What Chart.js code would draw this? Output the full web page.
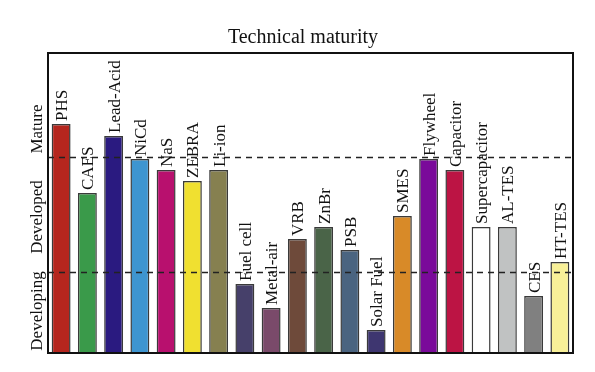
<!DOCTYPE html>
<html>
<head>
<meta charset="utf-8">
<script src="https://cdn.jsdelivr.net/npm/chart.js@4"></script>
<style>
html,body{margin:0;padding:0;background:#fff;}
#wrap{width:595px;height:372px;position:relative;}
</style>
</head>
<body>
<div id="wrap"><canvas id="c" width="595" height="372"></canvas></div>
<script>
const categories = ['PHS','CAES','Lead-Acid','NiCd','NaS','ZEBRA','Li-ion','Fuel cell','Metal-air','VRB','ZnBr','PSB','Solar Fuel','SMES','Flywheel','Capacitor','Supercapacitor','AL-TES','CES','HT-TES'];
const maturity = [229,160,217,194,183,172,183,69,45,114,126,103,23,137,194,183,126,126,57,91];
const barColors = ['#b5261e','#3a9a4a','#2a1a80','#3e95d0','#b8106e','#f0e030','#868050','#46406a','#7a4a6a','#6e4a3a','#4a6448','#4a6480','#3e3670','#d88a28','#7a0a9a','#bc1444','#ffffff','#c0c2c2','#808080','#f8f098'];
const levelLabels = ['Developing','Developed','Mature'];
const levelTicks = [42,136,224];
const levelBoundaries = [81,196];
const yMax = 300;
const chartTitle = 'Technical maturity';

const serif = '"Liberation Serif", "Times New Roman", serif';

const decor = {
  id:'decor',
  afterDatasetsDraw(chart){
    const ctx = chart.ctx, a = chart.chartArea, y = chart.scales.y;
    ctx.save();
    // title
    ctx.fillStyle = '#111';
    ctx.font = '20px ' + serif;
    ctx.textAlign = 'center'; ctx.textBaseline = 'middle';
    ctx.fillText(chartTitle, 303, 38);
    // dashed boundaries
    ctx.strokeStyle = '#222'; ctx.lineWidth = 1.5; ctx.setLineDash([6,5]);
    levelBoundaries.forEach(v=>{
      const py = Math.round(y.getPixelForValue(v))+0.5;
      ctx.beginPath(); ctx.moveTo(a.left, py); ctx.lineTo(a.right, py); ctx.stroke();
    });
    ctx.setLineDash([]);
    // frame
    ctx.strokeStyle = '#111'; ctx.lineWidth = 2;
    ctx.strokeRect(a.left, a.top, a.right-a.left, a.bottom-a.top);
    // bar labels
    ctx.fillStyle = '#111';
    ctx.font = '17px ' + serif;
    ctx.textAlign = 'left'; ctx.textBaseline = 'alphabetic';
    const meta = chart.getDatasetMeta(0);
    meta.data.forEach((bar,i)=>{
      ctx.save();
      ctx.translate(bar.x + 6, bar.y - 3);
      ctx.rotate(-Math.PI/2);
      ctx.fillText(categories[i], 0, 0);
      ctx.restore();
    });
    // level labels
    ctx.textAlign = 'center';
    levelLabels.forEach((t,i)=>{
      ctx.save();
      ctx.translate(42, y.getPixelForValue(levelTicks[i]));
      ctx.rotate(-Math.PI/2);
      ctx.fillText(t, 0, 0);
      ctx.restore();
    });
    ctx.restore();
  }
};

new Chart(document.getElementById('c'), {
  type:'bar',
  data:{
    labels: categories,
    datasets:[{
      data: maturity,
      backgroundColor: barColors,
      borderColor: '#3a3a3a',
      borderWidth: 1.5,
      barPercentage: 0.72,
      categoryPercentage: 1.0
    }]
  },
  options:{
    responsive:false,
    animation:false,
    layout:{padding:{left:48,right:22,bottom:19,top:53}},
    plugins:{
      legend:{display:false},
      tooltip:{enabled:false},
      title:{display:false}
    },
    scales:{
      x:{display:false},
      y:{display:false,min:0,max:yMax}
    }
  },
  plugins:[decor]
});
</script>
</body>
</html>
